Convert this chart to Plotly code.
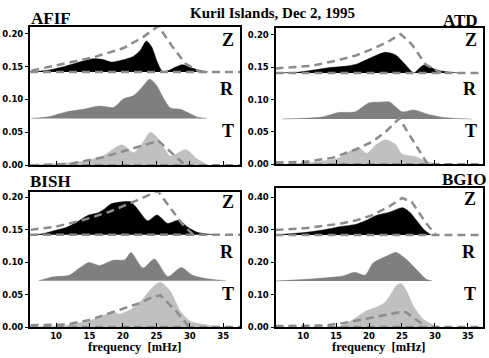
import plotly.graph_objects as go

W, H = 489, 358

# ---------------- data ----------------
# AFIF
afif_zb, afif_rb = 0.142, 0.071
afif_z_x = [6.3, 9, 11.5, 13.5, 15.5, 17, 18.3, 19.5, 20.6, 21.6, 22.6, 23.5, 24.3, 25.1, 25.9, 26.8, 27.8, 28.9, 30, 31.2, 32.7]
afif_z_y = [0.142, 0.145, 0.151, 0.157, 0.162, 0.161, 0.157, 0.159, 0.162, 0.166, 0.175, 0.189, 0.180, 0.158, 0.143, 0.144, 0.149, 0.153, 0.149, 0.145, 0.142]
afif_r_x = [6.3, 9, 11.5, 14, 16.5, 18.6, 20.1, 21.6, 22.8, 24.0, 25.0, 26.1, 27.1, 28.6, 30.1, 31.2, 32.5]
afif_r_y = [0.071, 0.074, 0.081, 0.085, 0.090, 0.088, 0.101, 0.106, 0.118, 0.131, 0.122, 0.101, 0.087, 0.085, 0.078, 0.073, 0.071]
afif_t_x = [6.3, 10, 14, 17, 19.8, 21.6, 23, 24.1, 25.3, 27.1, 29.4, 31, 32.7]
afif_t_y = [0, 0.002, 0.006, 0.014, 0.031, 0.019, 0.035, 0.050, 0.040, 0.014, 0.024, 0.010, 0]
afif_zd_x = [6.3, 15.5, 20, 23, 25.3, 27.3, 29.3, 31.5]
afif_zd_y = [0.144, 0.164, 0.178, 0.195, 0.212, 0.182, 0.155, 0.142]
afif_td_x = [6.3, 12, 17, 21, 25.3, 29.3]
afif_td_y = [0.0, 0.002, 0.012, 0.024, 0.037, 0.0]

# ATD
atd_zb, atd_rb = 0.141, 0.070
atd_z_x = [5.8, 9, 11.9, 13.8, 16.9, 18.2, 19.5, 21.5, 22.5, 24, 25.5, 26.8, 27.6, 28.5, 30.1, 31.7, 33.7]
atd_z_y = [0.141, 0.142, 0.146, 0.149, 0.152, 0.155, 0.161, 0.170, 0.173, 0.169, 0.154, 0.141, 0.148, 0.154, 0.146, 0.143, 0.141]
atd_r_x = [6.8, 10, 12.8, 15.4, 17.9, 20, 21.5, 23.2, 23.9, 25, 26.8, 29, 31.6, 35.6]
atd_r_y = [0.070, 0.071, 0.073, 0.080, 0.081, 0.095, 0.096, 0.096, 0.090, 0.081, 0.084, 0.077, 0.072, 0.070]
atd_t_x = [7, 10, 12.8, 15.4, 18.3, 19.7, 21, 22.5, 24, 25, 27, 28.6, 30.6]
atd_t_y = [0, 0.002, 0.005, 0.010, 0.026, 0.017, 0.030, 0.038, 0.031, 0.016, 0.012, 0.005, 0]
atd_zd_x = [5.8, 11.3, 15, 18, 20.5, 23, 24.8, 26.5, 28.6, 31]
atd_zd_y = [0.148, 0.152, 0.160, 0.168, 0.178, 0.190, 0.201, 0.185, 0.154, 0.141]
atd_td_x = [5.8, 10.4, 14.4, 18, 20.5, 22.5, 24.6, 26.5, 28.9]
atd_td_y = [0.003, 0.004, 0.010, 0.023, 0.035, 0.050, 0.071, 0.040, 0.0]

# BISH
bish_zb, bish_rb = 0.1425, 0.0715
bish_z_x = [6.2, 8, 9.8, 11.6, 13.1, 14.9, 16.2, 17.2, 18.2, 19.7, 21.2, 22.2, 23.7, 25.1, 26.7, 28.4, 29.7, 31.2, 33.7]
bish_z_y = [0.1425, 0.144, 0.149, 0.154, 0.162, 0.173, 0.176, 0.182, 0.190, 0.193, 0.193, 0.182, 0.164, 0.173, 0.160, 0.165, 0.154, 0.146, 0.1425]
bish_r_x = [7.4, 9, 10, 12, 13.5, 14.9, 16.5, 18.5, 20.3, 21.2, 23, 24.7, 26.7, 28.7, 30.4, 32.9, 35.4]
bish_r_y = [0.0715, 0.0763, 0.078, 0.080, 0.091, 0.0997, 0.095, 0.103, 0.104, 0.115, 0.091, 0.105, 0.078, 0.092, 0.080, 0.074, 0.0715]
bish_t_x = [6.2, 11.6, 14.6, 16.6, 18.4, 19.4, 21.6, 23.1, 24.6, 25.6, 27.1, 28.6, 30.1, 32.6, 35]
bish_t_y = [0, 0.003, 0.009, 0.015, 0.024, 0.020, 0.030, 0.045, 0.063, 0.069, 0.055, 0.024, 0.009, 0.003, 0]
bish_zd_x = [6.2, 10, 14, 18, 22, 25.2, 27, 28.8, 30.5]
bish_zd_y = [0.150, 0.155, 0.165, 0.178, 0.195, 0.210, 0.185, 0.160, 0.1425]
bish_td_x = [6.2, 11.6, 15, 18.2, 22.5, 24.6, 25.6, 28, 29.9]
bish_td_y = [0.003, 0.004, 0.011, 0.022, 0.037, 0.047, 0.049, 0.024, 0]

# BGIO
bgio_zb, bgio_rb = 0.284, 0.142
bgio_z_x = [5.8, 10.5, 13, 15.5, 18.1, 19.6, 21.1, 23.1, 25.1, 26.2, 27.2, 28.4, 29.4]
bgio_z_y = [0.284, 0.292, 0.299, 0.309, 0.317, 0.329, 0.344, 0.354, 0.368, 0.354, 0.329, 0.299, 0.284]
bgio_r_x = [5.8, 10.5, 13.5, 16, 17.8, 19.4, 20.6, 22.6, 24.1, 25.7, 27.2, 28.7, 29.6]
bgio_r_y = [0.142, 0.147, 0.152, 0.157, 0.169, 0.160, 0.197, 0.218, 0.230, 0.208, 0.177, 0.147, 0.142]
bgio_t_x = [14, 16, 18.1, 19.6, 21.1, 22.4, 23.3, 24.1, 24.9, 25.7, 26.7, 28.2, 29.7, 31]
bgio_t_y = [0, 0.005, 0.030, 0.050, 0.061, 0.076, 0.100, 0.127, 0.134, 0.111, 0.066, 0.025, 0.007, 0]
bgio_zd_x = [5.8, 10.5, 13, 15.5, 18.1, 20.5, 23.1, 25.0, 26.5, 28.6, 30.1]
bgio_zd_y = [0.299, 0.305, 0.312, 0.318, 0.329, 0.345, 0.372, 0.398, 0.385, 0.322, 0.284]
bgio_td_x = [5.8, 10.5, 13.5, 15, 16, 18.1, 21.6, 24.6, 25.6, 26.7, 28.7]
bgio_td_y = [0.003, 0.004, 0.005, 0.010, 0.012, 0.020, 0.033, 0.046, 0.046, 0.030, 0.0]

freq_ticks = [10, 15, 20, 25, 30, 35]
y_ticks_small = [0.00, 0.05, 0.10, 0.15, 0.20]
y_ticks_big = [0.00, 0.10, 0.20, 0.30, 0.40]

# ---------------- layout helpers ----------------
def fx(p):
    return p / W

def fy(p):
    return 1 - p / H

panels = [
    dict(name="AFIF", box=(30, 240, 27, 167.5), xr=[6.1, 37.5], yr=[0, 0.211], yt=y_ticks_small,
         zb=afif_zb, rb=afif_rb, z=(afif_z_x, afif_z_y), r=(afif_r_x, afif_r_y), t=(afif_t_x, afif_t_y),
         zd=(afif_zd_x, afif_zd_y), td=(afif_td_x, afif_td_y), xlab=False,
         lab=(29, 19, "left"), zrt=(236, [41, 90, 133])),
    dict(name="ATD", box=(275.5, 483, 28, 166.7), xr=[5.8, 37.3], yr=[0, 0.211], yt=y_ticks_small,
         zb=atd_zb, rb=atd_rb, z=(atd_z_x, atd_z_y), r=(atd_r_x, atd_r_y), t=(atd_t_x, atd_t_y),
         zd=(atd_zd_x, atd_zd_y), td=(atd_td_x, atd_td_y), xlab=False,
         lab=(480, 21, "right"), zrt=(479, [41, 90, 133])),
    dict(name="BISH", box=(30, 240, 195, 331.7), xr=[6.1, 37.5], yr=[0, 0.208], yt=y_ticks_small,
         zb=bish_zb, rb=bish_rb, z=(bish_z_x, bish_z_y), r=(bish_r_x, bish_r_y), t=(bish_t_x, bish_t_y),
         zd=(bish_zd_x, bish_zd_y), td=(bish_td_x, bish_td_y), xlab=True,
         lab=(28, 184, "left"), zrt=(236, [205, 256, 298])),
    dict(name="BGIO", box=(275.5, 483, 191, 331.7), xr=[5.8, 37.3], yr=[0, 0.4275], yt=y_ticks_big,
         zb=bgio_zb, rb=bgio_rb, z=(bgio_z_x, bgio_z_y), r=(bgio_r_x, bgio_r_y), t=(bgio_t_x, bgio_t_y),
         zd=(bgio_zd_x, bgio_zd_y), td=(bgio_td_x, bgio_td_y), xlab=True,
         lab=(488, 182, "right"), zrt=(478, [202, 256, 298])),
]

fig = go.Figure()
DASH_COL = "#8c8c8c"
layout = dict(
    width=W, height=H, margin=dict(l=0, r=0, t=0, b=0),
    paper_bgcolor="white", plot_bgcolor="white", showlegend=False,
)
annotations = []
serif = "Liberation Serif"
tickf = dict(family="DejaVu Sans", size=8.5, color="black", weight="bold")

for i, p in enumerate(panels, start=1):
    xa = "x" if i == 1 else f"x{i}"
    ya = "y" if i == 1 else f"y{i}"
    l, r, t, b = p["box"]
    x0, x1 = p["xr"]
    for key, base, col in (("z", p["zb"], "black"), ("r", p["rb"], "#7f7f7f"), ("t", 0.0, "#c0c0c0")):
        xs, ys = p[key]
        fig.add_trace(go.Scatter(x=xs, y=ys, xaxis=xa, yaxis=ya, mode="lines",
                                 line=dict(color=col, width=0.5, shape="spline", smoothing=0.7),
                                 fill="toself", fillcolor=col, hoverinfo="skip"))
    for base in (p["zb"], 0.0):
        fig.add_trace(go.Scatter(x=[x0, x1], y=[base, base], xaxis=xa, yaxis=ya, mode="lines",
                                 line=dict(color=DASH_COL, width=2.5, dash="8px,5px"), hoverinfo="skip"))
    for key in ("zd", "td"):
        xs, ys = p[key]
        fig.add_trace(go.Scatter(x=xs, y=ys, xaxis=xa, yaxis=ya, mode="lines",
                                 line=dict(color=DASH_COL, width=2.5, dash="8px,5px"), hoverinfo="skip"))

    layout["xaxis" if i == 1 else f"xaxis{i}"] = dict(
        domain=[fx(l), fx(r)], range=p["xr"], anchor=ya, showgrid=False, zeroline=False,
        showline=True, linecolor="black", linewidth=2, mirror=True,
        tickvals=freq_ticks, ticks="inside", ticklen=4, tickwidth=1, tickcolor="black",
        showticklabels=p["xlab"], tickfont=tickf,
    )
    layout["yaxis" if i == 1 else f"yaxis{i}"] = dict(
        domain=[fy(b), fy(t)], range=p["yr"], anchor=xa, showgrid=False, zeroline=False,
        showline=True, linecolor="black", linewidth=2, mirror=True,
        tickvals=p["yt"], tickformat=".2f", ticks="outside", ticklen=3, tickwidth=1,
        tickcolor="black", tickfont=tickf,
    )
    lx, ly, anc = p["lab"]
    annotations.append(dict(text=f"<b>{p['name']}</b>", x=fx(lx), y=fy(ly), xref="paper", yref="paper",
                            xanchor=anc, yanchor="middle", showarrow=False,
                            font=dict(family=serif, size=17, color="black")))
    zx, zys = p["zrt"]
    for txt, yy in zip(("Z", "R", "T"), zys):
        annotations.append(dict(text=f"<b>{txt}</b>", x=fx(zx), y=fy(yy), xref="paper", yref="paper",
                                xanchor="right", yanchor="middle", showarrow=False,
                                font=dict(family=serif, size=18, color="black")))
    if p["xlab"]:
        annotations.append(dict(text="<b>frequency  [mHz]</b>", x=fx((l + r) / 2), y=fy(352),
                                xref="paper", yref="paper", xanchor="center", yanchor="middle",
                                showarrow=False, font=dict(family=serif, size=12.5, color="black")))

annotations.append(dict(text="<b>Kuril Islands, Dec 2, 1995</b>", x=fx(272), y=fy(13), xref="paper",
                        yref="paper", xanchor="center", yanchor="middle", showarrow=False,
                        font=dict(family=serif, size=15, color="black")))
layout["annotations"] = annotations
fig.update_layout(**layout)
fig.write_html("out.html")
